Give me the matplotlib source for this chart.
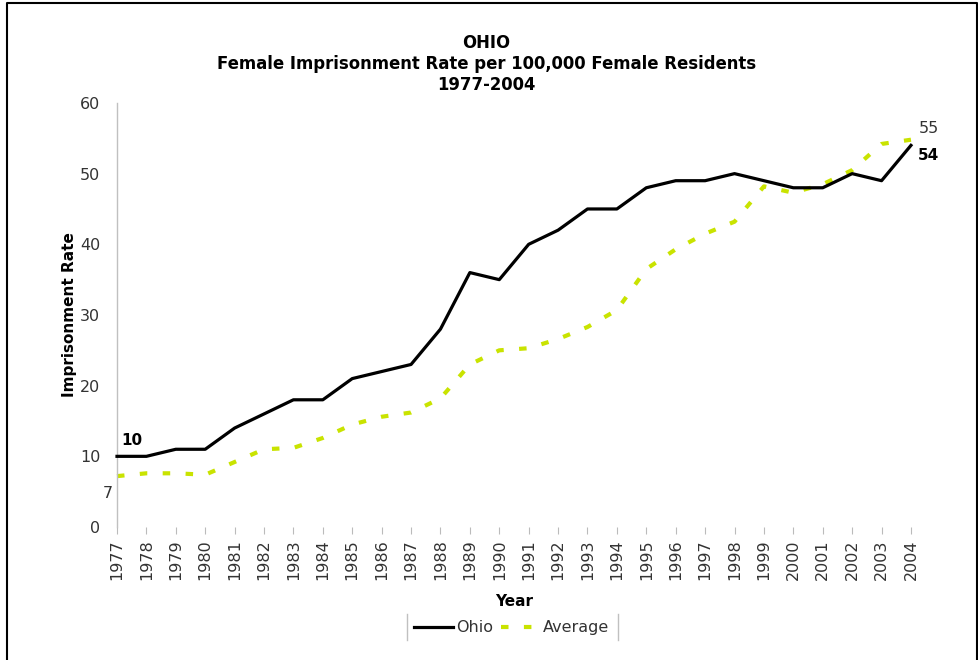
import matplotlib.pyplot as plt
from matplotlib.lines import Line2D

# Data
years = list(range(1977, 2005))
ohio = [10, 10, 11, 11, 14, 16, 18, 18, 21, 22, 23, 28, 36, 35,
        40, 42, 45, 45, 48, 49, 49, 50, 49, 48, 48, 50, 49, 54]
average = [7.2, 7.6, 7.6, 7.4, 9.2, 11, 11.2, 12.6, 14.5, 15.6, 16.2, 18.2, 23, 25,
           25.3, 26.6, 28.3, 30.7, 36.5, 39.3, 41.5, 43.2, 48.2, 47.3, 48.5, 50.5, 54.2, 54.8]

green = '#c9e300'
grey_text = '#333333'

fig = plt.figure(figsize=(9.79, 6.6), dpi=100)
ax = fig.add_axes([0.1195, 0.2015, 0.811, 0.6425])

ax.plot(years, ohio, color='black', lw=2.3, label='Ohio', clip_on=False, zorder=3)
ax.plot(years, average, color=green, lw=3, dashes=(1.8, 3.7), label='Average',
        clip_on=False, zorder=2)

ax.set_xlim(1977, 2004)
ax.set_ylim(0, 60)
ax.set_yticks(range(0, 61, 10))
ax.set_xticks(years)
ax.set_xticklabels([str(y) for y in years], rotation=90)
ax.tick_params(axis='y', length=0, labelsize=11.5, labelcolor=grey_text, pad=12)
ax.tick_params(axis='x', length=5, color='#bbbbbb', labelsize=11.5,
               labelcolor=grey_text, pad=4)

for s in ['top', 'right', 'bottom']:
    ax.spines[s].set_visible(False)
ax.spines['left'].set_color('#c0c0c0')
ax.spines['left'].set_linewidth(1)

ax.set_ylabel('Imprisonment Rate', fontsize=11, fontweight='bold', labelpad=2)
ax.set_xlabel('Year', fontsize=11, fontweight='bold', labelpad=10)

# Data labels at the ends of the series
ax.text(1977.15, 11.2, '10', fontsize=11, fontweight='bold', ha='left', va='bottom')
ax.text(1976.85, 4.8, '7', fontsize=11.5, color=grey_text, ha='right', va='center')
ax.text(2004.25, 56.4, '55', fontsize=11.5, color=grey_text, ha='left', va='center')
ax.text(2004.25, 52.6, '54', fontsize=11, fontweight='bold', ha='left', va='center')

fig.text(0.497, 0.903, 'OHIO\nFemale Imprisonment Rate per 100,000 Female Residents\n1977-2004',
         ha='center', va='center', fontsize=11.9, fontweight='bold', linespacing=1.2)

leg = ax.legend(loc='center', bbox_to_anchor=(0.497, -0.238), ncol=2, frameon=False,
                fontsize=11.5, handlelength=2.4, handletextpad=0.2, columnspacing=0.5)
for t in leg.get_texts():
    t.set_color(grey_text)

# thin grey bars at the legend sides
fig.add_artist(Line2D([0.416, 0.416], [0.030, 0.070], color='#c0c0c0', lw=1))
fig.add_artist(Line2D([0.631, 0.631], [0.030, 0.070], color='#c0c0c0', lw=1))

# outer frame (left, top, right)
fig.add_artist(Line2D([0.007, 0.007, 0.998, 0.998], [0.0, 0.995, 0.995, 0.0],
                      color='black', lw=1.5))

fig.savefig('out.png', dpi=100)
